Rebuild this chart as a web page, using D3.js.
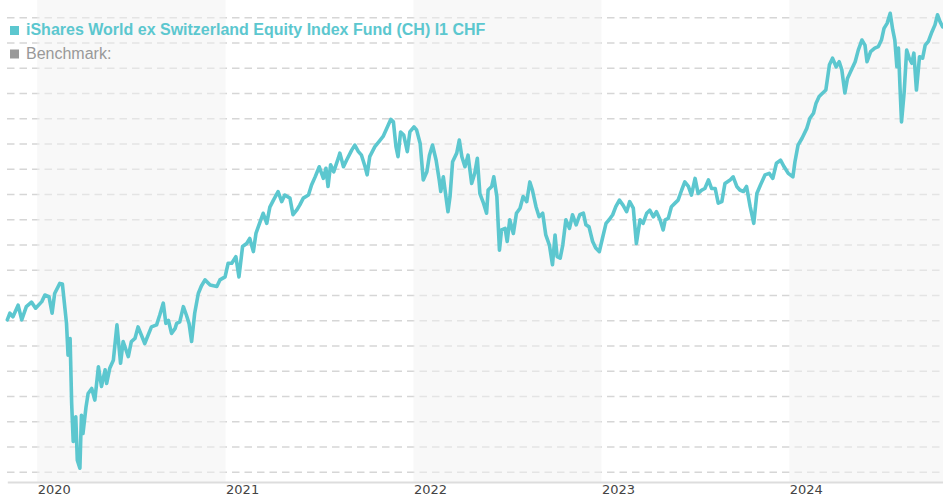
<!DOCTYPE html>
<html>
<head>
<meta charset="utf-8">
<script src="https://cdn.jsdelivr.net/npm/d3@7"></script>
<style>
  html, body { margin: 0; padding: 0; background: #fff; }
  svg { display: block; }
</style>
</head>
<body>
<svg id="chart"></svg>
<script>
// ── Data (indexed fund price) ──────────────────────────────────────

const prices2019 = [
  ['2019-11-04', 100.1], ['2019-11-09', 101.4], ['2019-11-15', 100.7], ['2019-11-25', 103.0],
  ['2019-12-02', 100.1], ['2019-12-11', 102.7], ['2019-12-21', 103.6], ['2019-12-29', 102.4]
];

const prices2020 = [
  ['2020-01-10', 103.7], ['2020-01-16', 105.0], ['2020-01-24', 104.7], ['2020-01-30', 101.4],
  ['2020-02-04', 105.3], ['2020-02-14', 107.3], ['2020-02-19', 107.2], ['2020-02-27', 99.4],
  ['2020-03-01', 93.1], ['2020-03-05', 96.4], ['2020-03-08', 83.6], ['2020-03-11', 76.0],
  ['2020-03-16', 80.9], ['2020-03-19', 72.3], ['2020-03-24', 70.7], ['2020-03-27', 81.2],
  ['2020-03-30', 77.6], ['2020-04-05', 82.9], ['2020-04-09', 85.5], ['2020-04-16', 86.5],
  ['2020-04-22', 84.2], ['2020-04-29', 90.8], ['2020-05-05', 86.9], ['2020-05-12', 90.2],
  ['2020-05-15', 87.5], ['2020-05-21', 90.5], ['2020-05-28', 92.1], ['2020-06-04', 99.1],
  ['2020-06-11', 91.5], ['2020-06-16', 95.8], ['2020-06-26', 92.8], ['2020-07-02', 95.8],
  ['2020-07-09', 96.4], ['2020-07-15', 98.7], ['2020-07-28', 95.4], ['2020-08-10', 98.7],
  ['2020-08-20', 99.1], ['2020-08-26', 101.0], ['2020-09-02', 103.4], ['2020-09-07', 99.4],
  ['2020-09-12', 100.0], ['2020-09-18', 97.4], ['2020-09-25', 98.4], ['2020-09-28', 99.4],
  ['2020-10-04', 99.7], ['2020-10-11', 102.7], ['2020-10-17', 101.0], ['2020-10-22', 99.4],
  ['2020-10-27', 95.8], ['2020-11-02', 101.4], ['2020-11-09', 105.3], ['2020-11-15', 106.8],
  ['2020-11-22', 108.0], ['2020-12-02', 107.0], ['2020-12-15', 106.7], ['2020-12-21', 108.0],
  ['2020-12-31', 108.6]
];

const prices2021 = [
  ['2021-01-06', 111.3], ['2021-01-13', 111.3], ['2021-01-21', 112.6], ['2021-01-27', 108.6],
  ['2021-02-03', 114.6], ['2021-02-11', 115.2], ['2021-02-17', 116.2], ['2021-02-24', 113.6],
  ['2021-03-01', 117.2], ['2021-03-09', 119.5], ['2021-03-15', 121.2], ['2021-03-22', 119.2],
  ['2021-03-28', 122.4], ['2021-04-04', 123.8], ['2021-04-13', 125.5], ['2021-04-20', 123.5],
  ['2021-04-26', 124.8], ['2021-05-06', 124.2], ['2021-05-12', 120.9], ['2021-05-19', 121.8],
  ['2021-05-25', 122.8], ['2021-06-01', 124.2], ['2021-06-11', 124.8], ['2021-06-17', 126.8],
  ['2021-06-24', 128.4], ['2021-07-02', 130.4], ['2021-07-10', 128.1], ['2021-07-15', 130.1],
  ['2021-07-19', 126.5], ['2021-07-24', 130.8], ['2021-07-30', 129.4], ['2021-08-08', 132.1],
  ['2021-08-11', 133.1], ['2021-08-18', 130.4], ['2021-08-24', 131.7], ['2021-09-03', 133.7],
  ['2021-09-09', 134.7], ['2021-09-16', 133.4], ['2021-09-22', 132.7], ['2021-09-29', 130.4],
  ['2021-10-03', 128.8], ['2021-10-08', 132.4], ['2021-10-18', 134.4], ['2021-10-26', 135.4],
  ['2021-11-03', 136.4], ['2021-11-10', 138.0], ['2021-11-18', 139.8], ['2021-11-23', 139.3],
  ['2021-11-28', 134.4], ['2021-12-02', 132.4], ['2021-12-07', 137.3], ['2021-12-13', 136.7],
  ['2021-12-20', 133.4], ['2021-12-25', 137.3]
];

const prices2022 = [
  ['2022-01-02', 138.3], ['2022-01-07', 137.7], ['2022-01-14', 135.0], ['2022-01-20', 127.8],
  ['2022-01-27', 129.4], ['2022-02-01', 132.7], ['2022-02-07', 134.7], ['2022-02-14', 131.7],
  ['2022-02-20', 127.8], ['2022-02-23', 125.5], ['2022-02-28', 128.4], ['2022-03-05', 124.5],
  ['2022-03-09', 121.5], ['2022-03-13', 124.5], ['2022-03-18', 131.4], ['2022-03-26', 133.1],
  ['2022-03-31', 135.7], ['2022-04-05', 132.4], ['2022-04-11', 130.4], ['2022-04-17', 132.7],
  ['2022-04-24', 127.1], ['2022-04-30', 129.1], ['2022-05-05', 132.1], ['2022-05-10', 125.1],
  ['2022-05-17', 123.2], ['2022-05-23', 121.2], ['2022-05-26', 125.8], ['2022-06-02', 126.5],
  ['2022-06-06', 128.4], ['2022-06-12', 124.5], ['2022-06-17', 113.9], ['2022-06-21', 117.9],
  ['2022-06-28', 118.2], ['2022-07-02', 115.6], ['2022-07-07', 119.9], ['2022-07-14', 117.2],
  ['2022-07-20', 121.2], ['2022-07-27', 122.2], ['2022-08-02', 124.5], ['2022-08-09', 123.5],
  ['2022-08-15', 127.4], ['2022-08-20', 125.8], ['2022-08-27', 122.5], ['2022-09-02', 120.5],
  ['2022-09-09', 121.2], ['2022-09-15', 116.9], ['2022-09-22', 114.9], ['2022-09-28', 111.0],
  ['2022-10-03', 116.9], ['2022-10-07', 112.6], ['2022-10-13', 112.3], ['2022-10-18', 114.9],
  ['2022-10-24', 119.9], ['2022-10-31', 118.2], ['2022-11-06', 120.9], ['2022-11-13', 118.9],
  ['2022-11-20', 120.9], ['2022-11-27', 121.2], ['2022-12-02', 118.9], ['2022-12-08', 118.5],
  ['2022-12-15', 115.6], ['2022-12-21', 114.3], ['2022-12-28', 113.6]
];

const prices2023 = [
  ['2023-01-03', 116.2], ['2023-01-10', 119.2], ['2023-01-16', 119.9], ['2023-01-23', 120.9],
  ['2023-01-29', 122.5], ['2023-02-05', 123.8], ['2023-02-12', 122.8], ['2023-02-19', 121.5],
  ['2023-02-25', 123.5], ['2023-03-04', 122.2], ['2023-03-10', 115.2], ['2023-03-17', 119.9],
  ['2023-03-23', 119.2], ['2023-03-30', 121.2], ['2023-04-05', 121.8], ['2023-04-12', 120.5],
  ['2023-04-18', 121.5], ['2023-04-25', 119.9], ['2023-05-01', 117.9], ['2023-05-05', 119.9],
  ['2023-05-11', 120.2], ['2023-05-17', 122.5], ['2023-05-24', 123.2], ['2023-05-30', 123.8],
  ['2023-06-06', 125.8], ['2023-06-12', 127.4], ['2023-06-19', 126.5], ['2023-06-25', 124.8],
  ['2023-07-02', 128.1], ['2023-07-08', 125.1], ['2023-07-15', 125.8], ['2023-07-21', 126.1],
  ['2023-07-28', 127.8], ['2023-08-03', 126.1], ['2023-08-10', 126.1], ['2023-08-16', 123.2],
  ['2023-08-23', 123.5], ['2023-08-29', 127.1], ['2023-09-08', 127.8], ['2023-09-14', 128.4],
  ['2023-09-21', 126.5], ['2023-09-27', 125.8], ['2023-10-04', 125.5], ['2023-10-10', 126.5],
  ['2023-10-17', 122.5], ['2023-10-24', 119.2], ['2023-10-30', 125.1], ['2023-11-06', 126.8],
  ['2023-11-15', 128.8], ['2023-11-23', 129.1], ['2023-11-30', 128.1], ['2023-12-07', 131.1],
  ['2023-12-15', 131.7], ['2023-12-22', 130.4], ['2023-12-30', 129.1]
];

const prices2024 = [
  ['2024-01-08', 128.4], ['2024-01-12', 131.4], ['2024-01-18', 134.7], ['2024-01-26', 136.1],
  ['2024-02-04', 138.0], ['2024-02-10', 140.0], ['2024-02-17', 141.0], ['2024-02-22', 143.0],
  ['2024-02-28', 144.3], ['2024-03-06', 145.0], ['2024-03-12', 145.6], ['2024-03-19', 150.6],
  ['2024-03-25', 151.9], ['2024-04-01', 150.2], ['2024-04-07', 151.2], ['2024-04-12', 149.6],
  ['2024-04-18', 145.0], ['2024-04-23', 147.9], ['2024-04-29', 149.2], ['2024-05-08', 151.2],
  ['2024-05-14', 153.5], ['2024-05-21', 155.5], ['2024-05-27', 154.5], ['2024-05-31', 151.2],
  ['2024-06-07', 153.2], ['2024-06-15', 153.9], ['2024-06-22', 154.2], ['2024-06-28', 155.5],
  ['2024-07-03', 157.8], ['2024-07-09', 158.8], ['2024-07-15', 160.8], ['2024-07-20', 157.5],
  ['2024-07-24', 155.5], ['2024-07-28', 150.2], ['2024-07-31', 153.9], ['2024-08-03', 146.3],
  ['2024-08-06', 139.3], ['2024-08-11', 145.0], ['2024-08-16', 153.5], ['2024-08-21', 151.9],
  ['2024-08-26', 150.9], ['2024-08-30', 152.9], ['2024-09-04', 145.6], ['2024-09-10', 152.2],
  ['2024-09-16', 151.9], ['2024-09-21', 154.5], ['2024-09-27', 155.2], ['2024-10-04', 157.1],
  ['2024-10-10', 158.5], ['2024-10-15', 160.5], ['2024-10-20', 159.1], ['2024-10-25', 158.1]
];

const yearLabels   = ['2020', '2021', '2022', '2023', '2024'];
const shadedYears  = ['2020', '2022', '2024'];
const gridValues   = d3.range(70, 161, 5);
const legendItems  = [
  { label: 'iShares World ex Switzerland Equity Index Fund (CH) I1 CHF', color: '#5cc7cf', bold: true },
  { label: 'Benchmark:', color: '#999999', bold: false }
];

// ── Layout ─────────────────────────────────────────────────────────

const width  = 943;
const height = 500;
const left   = 7;
const axisY  = 482;
const lineColor = '#5cc7cf';

const parseDate = d3.timeParse('%Y-%m-%d');
const series = [prices2019, prices2020, prices2021, prices2022, prices2023, prices2024]
  .flat()
  .map(([d, v]) => ({ date: parseDate(d), value: v }));

const svg = d3.select('#chart')
  .attr('width', width)
  .attr('height', height);

// ── Scales ─────────────────────────────────────────────────────────

const x = d3.scaleTime()
  .domain(d3.extent(series, d => d.date))
  .range([7.3, 942.7]);

const y = d3.scaleLinear()
  .domain([70, 160])
  .range([471.8, 17.3]);

// ── Dashed gridlines ───────────────────────────────────────────────

const grid = svg.append('g')
  .attr('transform', `translate(${left},0)`)
  .call(d3.axisLeft(y)
    .tickValues(gridValues)
    .tickSize(-(width - left))
    .tickFormat(''));

grid.select('.domain').remove();
grid.selectAll('.tick line')
  .attr('stroke', '#d6d6d6')
  .attr('stroke-width', 1.6)
  .attr('stroke-dasharray', '7.5,5');

// ── Alternating year bands (drawn over grid, semi-transparent) ─────

svg.append('g')
  .selectAll('rect')
  .data(shadedYears)
  .join('rect')
  .attr('x', d => x(parseDate(`${d}-01-01`)))
  .attr('y', 0)
  .attr('width', d => {
    const x0 = x(parseDate(`${d}-01-01`));
    const x1 = Math.min(width, x(parseDate(`${+d + 1}-01-01`)));
    return x1 - x0;
  })
  .attr('height', axisY)
  .attr('fill', '#f2f2f2')
  .attr('fill-opacity', 0.5);

// ── X axis ─────────────────────────────────────────────────────────

const xAxis = svg.append('g')
  .attr('transform', `translate(0,${axisY})`)
  .call(d3.axisBottom(x)
    .tickValues(yearLabels.map(yr => parseDate(`${yr}-01-01`)))
    .tickFormat(d3.timeFormat('%Y'))
    .tickSize(0)
    .tickPadding(3));

xAxis.select('.domain')
  .attr('stroke', '#dddddd')
  .attr('stroke-width', 2);

xAxis.selectAll('.tick text')
  .attr('text-anchor', 'start')
  .attr('fill', '#444')
  .style('font-family', '"DejaVu Sans", sans-serif')
  .style('font-size', '13px');

// ── Price line ─────────────────────────────────────────────────────

const line = d3.line()
  .x(d => x(d.date))
  .y(d => y(d.value));

svg.append('path')
  .datum(series)
  .attr('d', line)
  .attr('fill', 'none')
  .attr('stroke', lineColor)
  .attr('stroke-width', 3.6)
  .attr('stroke-linejoin', 'round')
  .attr('stroke-linecap', 'round');

// ── Legend ─────────────────────────────────────────────────────────

const legend = svg.append('g')
  .selectAll('g')
  .data(legendItems)
  .join('g')
  .attr('transform', (d, i) => `translate(10,${35 + i * 23.5})`);

legend.append('rect')
  .attr('x', 0)
  .attr('y', -9)
  .attr('width', 9)
  .attr('height', 9)
  .attr('fill', d => d.color);

legend.append('text')
  .attr('x', 16)
  .attr('y', 0)
  .attr('fill', d => d.color)
  .style('font-family', '"Liberation Sans", Arial, sans-serif')
  .style('font-size', '16px')
  .style('font-weight', d => d.bold ? 'bold' : 'normal')
  .text(d => d.label);
</script>
</body>
</html>
